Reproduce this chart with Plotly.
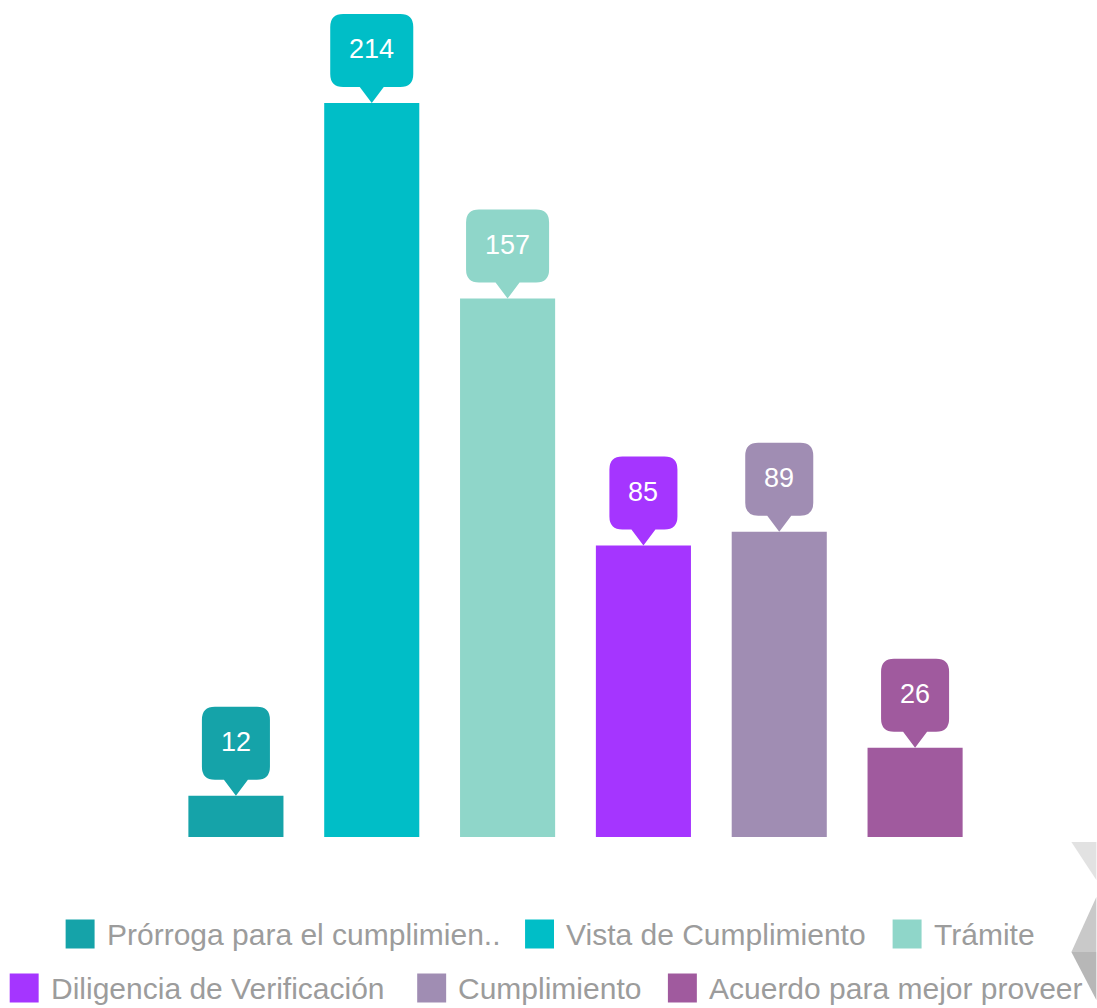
import plotly.graph_objects as go

# ---- data ----
categories = [
    "Prórroga para el cumplimien..",
    "Vista de Cumplimiento",
    "Trámite",
    "Diligencia de Verificación",
    "Cumplimiento",
    "Acuerdo para mejor proveer",
]
values = [12, 214, 157, 85, 89, 26]
colors = ["#15A3A9", "#00BEC7", "#8FD6C9", "#A535FF", "#A08DB3", "#A05A9E"]

# ---- layout constants (pixels) ----
W, H = 1097, 1008
ML, MR, MT, MB = 167.5, 113.5, 0, 171
PW, PH = W - ML - MR, H - MT - MB
YMAX = 244.0
FONT = "Liberation Sans, Arial, sans-serif"


def px2paper_x(px):
    return (px - ML) / PW


def px2paper_y(py):
    return (H - MB - py) / PH


idx = list(range(len(categories)))

fig = go.Figure()
fig.add_trace(go.Bar(
    x=idx, y=values, width=0.7,
    marker=dict(color=colors, line=dict(width=0)),
    hovertext=categories, hoverinfo="text+y",
    showlegend=False,
))

shapes = []
annotations = []

# callout bubbles above each bar
PTR_H, BOX_TOP, RAD, PTR_HW = 16, 89, 13, 12
for i, (v, c) in enumerate(zip(values, colors)):
    txt = str(v)
    hw = (len(txt) * 0.556 * 27 + 38) / 2
    p = (f"M 0,0 L {PTR_HW},{PTR_H} L {hw-RAD},{PTR_H} Q {hw},{PTR_H} {hw},{PTR_H+RAD} "
         f"L {hw},{BOX_TOP-RAD} Q {hw},{BOX_TOP} {hw-RAD},{BOX_TOP} "
         f"L {-hw+RAD},{BOX_TOP} Q {-hw},{BOX_TOP} {-hw},{BOX_TOP-RAD} "
         f"L {-hw},{PTR_H+RAD} Q {-hw},{PTR_H} {-hw+RAD},{PTR_H} L {-PTR_HW},{PTR_H} Z")
    shapes.append(dict(
        type="path", xref="x", yref="y",
        xsizemode="pixel", ysizemode="pixel",
        xanchor=i, yanchor=v, path=p,
        fillcolor=c, line=dict(width=0), layer="above",
    ))
    annotations.append(dict(
        x=i, y=v, xref="x", yref="y", text=txt, showarrow=False,
        yshift=(PTR_H + BOX_TOP) / 2 + 1, yanchor="middle", xanchor="center",
        font=dict(family=FONT, size=27, color="white"),
    ))

# manual legend
legend_sq_x = [65, 525, 893, 9, 417, 668]
legend_row_y = [934, 934, 934, 988, 988, 988]
SQ = 29
for name, c, sx, cy in zip(categories, colors, legend_sq_x, legend_row_y):
    shapes.append(dict(
        type="rect", xref="paper", yref="paper",
        x0=px2paper_x(sx), x1=px2paper_x(sx + SQ),
        y0=px2paper_y(cy + SQ / 2), y1=px2paper_y(cy - SQ / 2),
        fillcolor=c, line=dict(width=0),
    ))
    annotations.append(dict(
        x=px2paper_x(sx + SQ + 10), y=px2paper_y(cy), xref="paper", yref="paper",
        text=name, showarrow=False, xanchor="left", yanchor="middle",
        font=dict(family=FONT, size=30, color="#9C9C9C"),
    ))

# decorative grey chevron at bottom right
deco = [
    ([(1072, 842), (1097, 842), (1097, 880)], "#E2E2E2"),
    ([(1097, 897), (1072, 952), (1097, 952)], "#C9C9C9"),
    ([(1072, 952), (1097, 952), (1097, 1000)], "#B7B7B7"),
]
for pts, c in deco:
    path = "M " + " L ".join(f"{px2paper_x(x):.5f},{px2paper_y(y):.5f}" for x, y in pts) + " Z"
    shapes.append(dict(type="path", xref="paper", yref="paper", path=path,
                       fillcolor=c, line=dict(width=0)))

fig.update_layout(
    width=W, height=H,
    margin=dict(l=ML, r=MR, t=MT, b=MB, pad=0),
    paper_bgcolor="white", plot_bgcolor="white",
    xaxis=dict(range=[-0.5, 5.5], visible=False, fixedrange=True),
    yaxis=dict(range=[0, YMAX], visible=False, fixedrange=True),
    shapes=shapes, annotations=annotations,
    showlegend=False,
)

fig.write_html(
    "out.html",
    config={"displayModeBar": False},
    post_script="document.body.style.margin='0';document.body.style.overflow='hidden';",
)
